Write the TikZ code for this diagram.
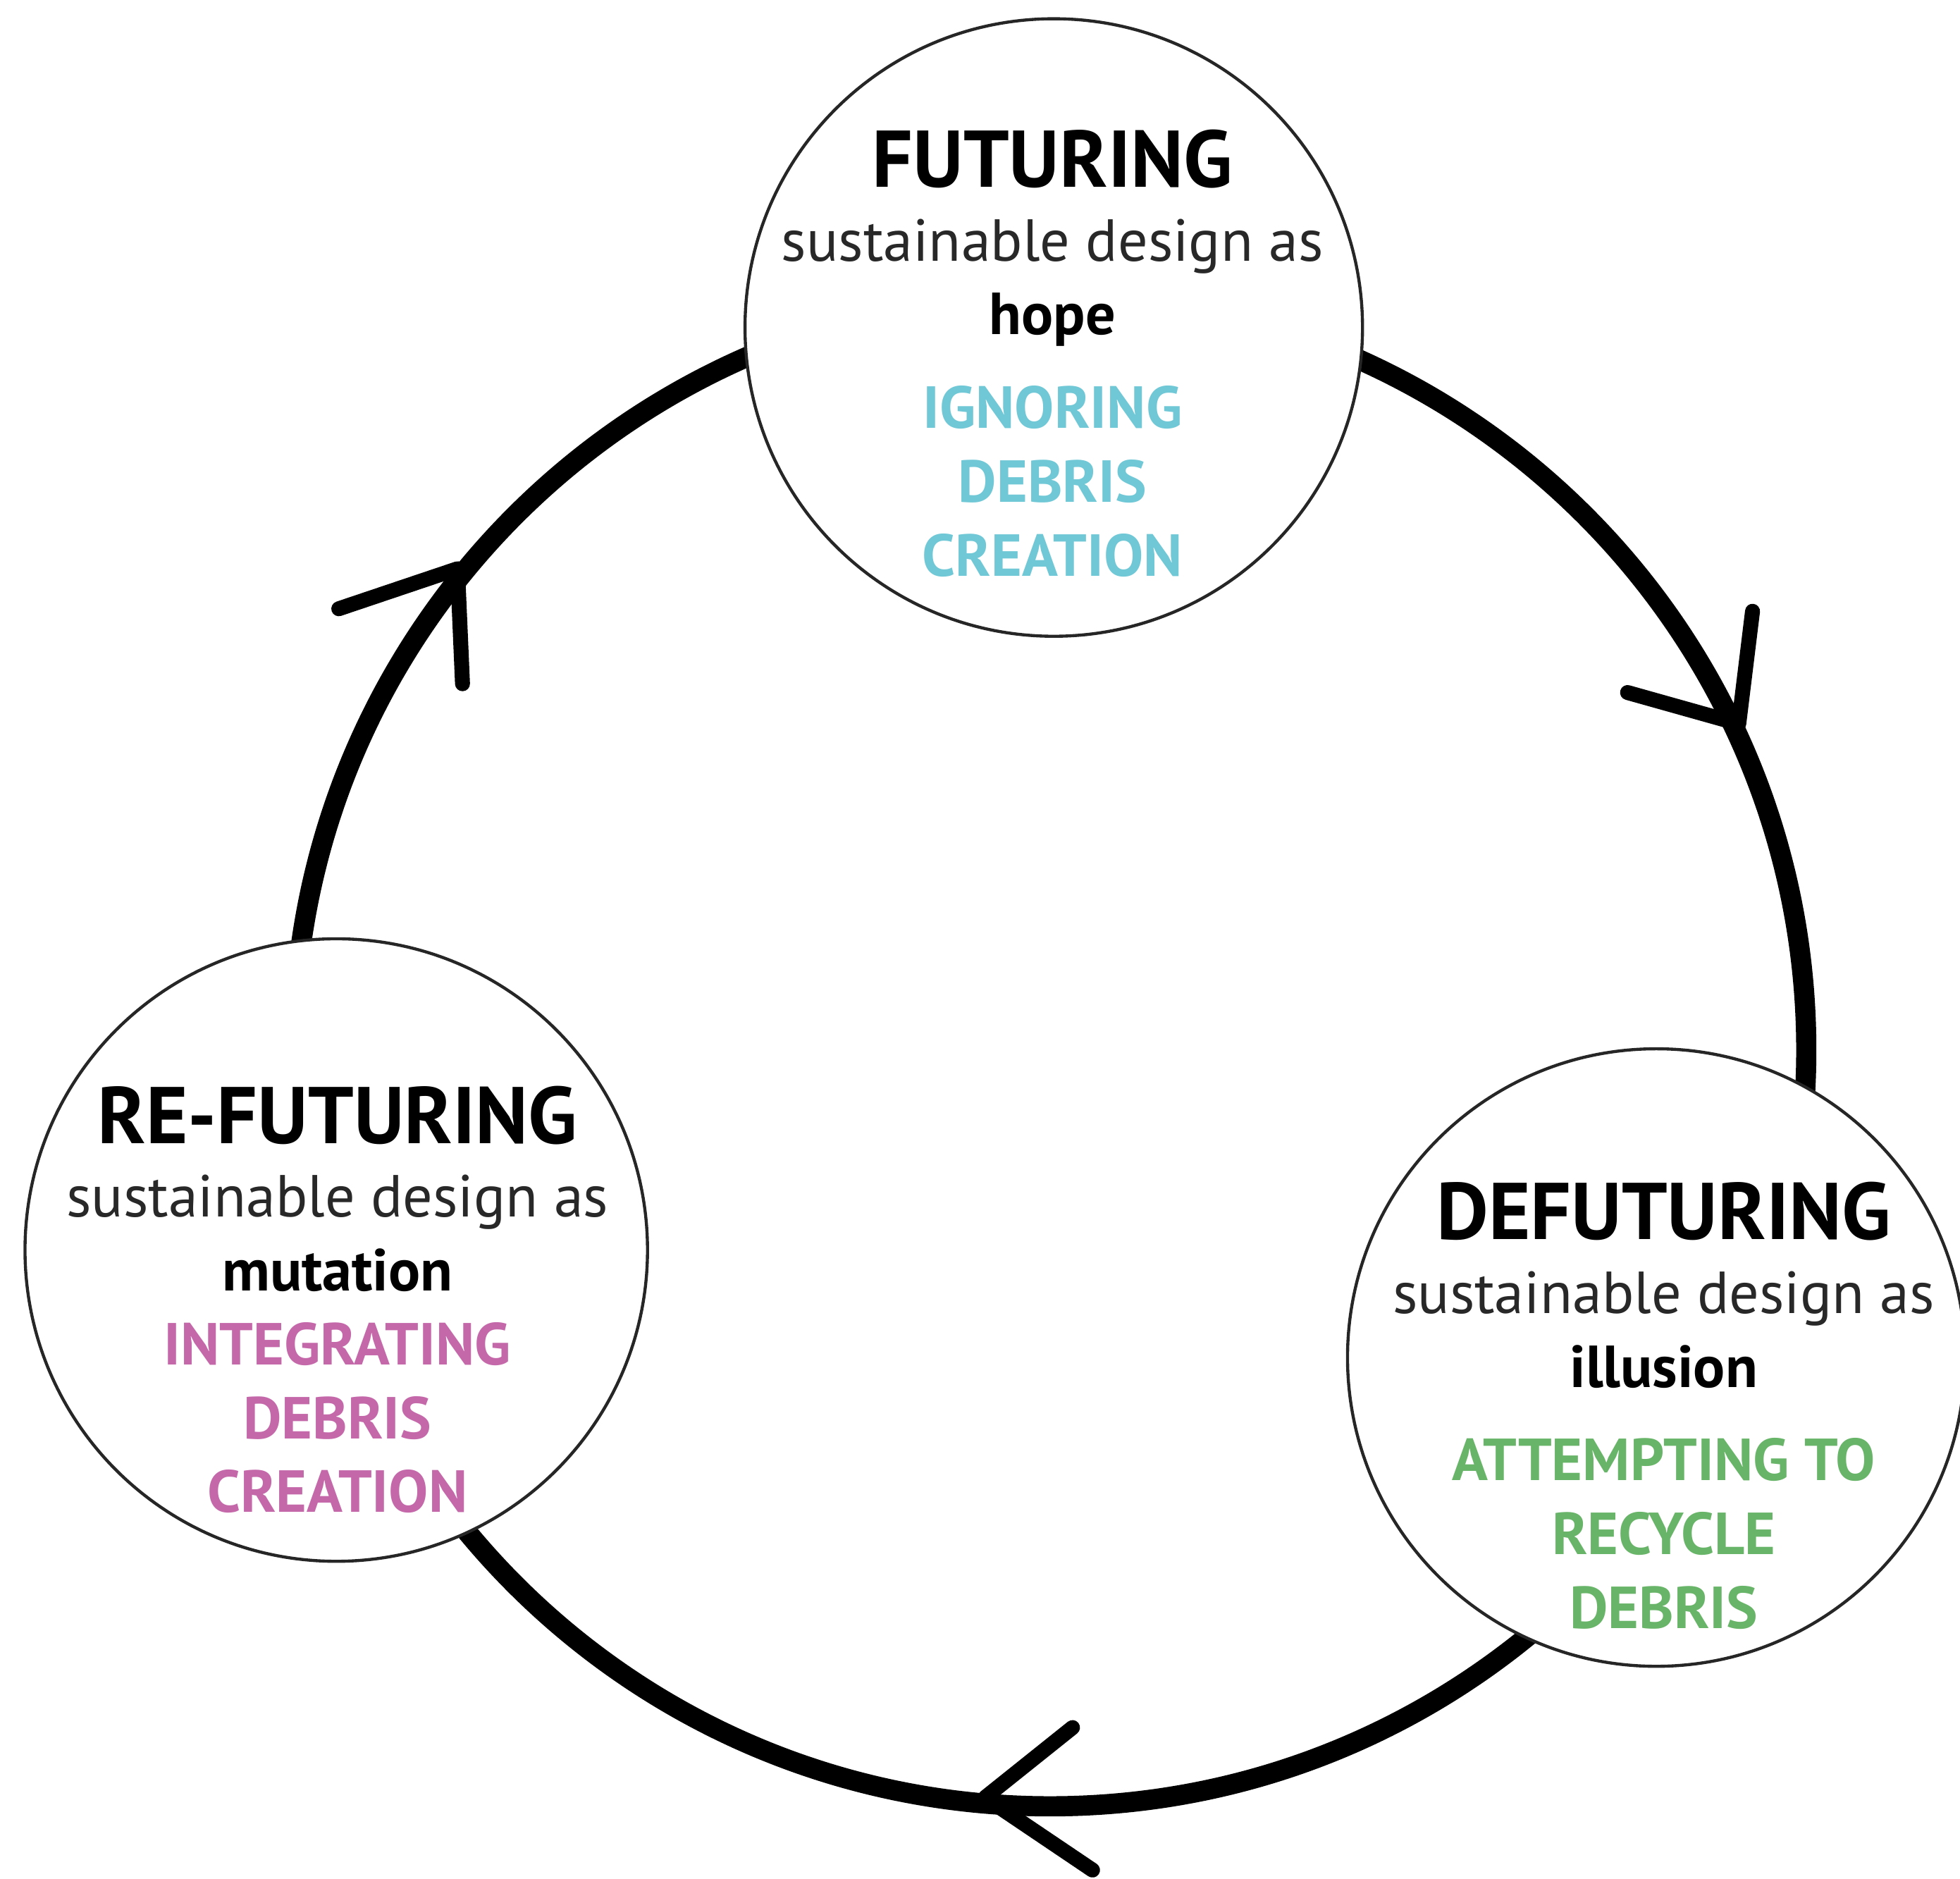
\documentclass[tikz,border=0pt]{standalone}
\usepackage{fontspec}
\setmainfont{PT Sans}
\definecolor{ignorecol}{RGB}{112,200,214}
\definecolor{integratecol}{RGB}{196,104,170}
\definecolor{recyclecol}{RGB}{104,180,104}
\definecolor{subcol}{RGB}{40,40,40}

\begin{document}
\begin{tikzpicture}[
    phase/.style={draw=black!85, line width=0.7pt, fill=white, circle,
        inner sep=0pt, minimum size=4.94cm},
    phasetext/.style={align=center, inner sep=0pt, anchor=north,
        font=\fontsize{13.5}{16.8}\selectfont},
    ring/.style={line width=4.6pt},
    barb/.style={line width=3.4pt, line cap=round, line join=round}]

    \useasboundingbox (0,0) rectangle (15.68,15.03);

    % the cycle ring, hidden under the phase circles
    \coordinate (c) at (8.40,6.63);
    \draw[ring] (c) circle (6.05);

    % arrow barbs on the ring
    \coordinate (tipA) at (3.66,10.48);
    \coordinate (tipB) at (13.91,9.24);
    \coordinate (tipC) at (7.88,0.65);
    \draw[barb] (2.71,10.16) -- (tipA) -- (3.70,9.56);
    \draw[barb] (13.02,9.49) -- (tipB) -- (14.02,10.14);
    \draw[barb] (8.58,1.21) -- (tipC) -- (8.74,0.07);

    \node[phase] (fut) at (8.43,12.41) {};
    \node[phase, minimum size=4.98cm] (refut) at (2.69,5.03) {};
    \node[phase] (defut) at (13.25,4.17) {};

    \node[phasetext] (futtxt) at (8.42,14.00) {%
        {\fontsize{18.3}{16.8}\selectfont\bfseries FUTURING}\\
        \textcolor{subcol}{sustainable design as}\\
        \textbf{hope}\\[4.5pt]
        \textcolor{ignorecol}{\textbf{IGNORING}}\\
        \textcolor{ignorecol}{\textbf{DEBRIS}}\\
        \textcolor{ignorecol}{\textbf{CREATION}}};
    \node[phasetext] (refuttxt) at (2.70,6.35) {%
        {\fontsize{18.3}{16.8}\selectfont\bfseries RE-FUTURING}\\
        \textcolor{subcol}{sustainable design as}\\
        \textbf{mutation}\\
        \textcolor{integratecol}{\textbf{INTEGRATING}}\\
        \textcolor{integratecol}{\textbf{DEBRIS}}\\
        \textcolor{integratecol}{\textbf{CREATION}}};
    \node[phasetext] (defuttxt) at (13.31,5.58) {%
        {\fontsize{18.3}{16.8}\selectfont\bfseries DEFUTURING}\\
        \textcolor{subcol}{sustainable design as}\\
        \textbf{illusion}\\[4.5pt]
        \textcolor{recyclecol}{\textbf{ATTEMPTING TO}}\\
        \textcolor{recyclecol}{\textbf{RECYCLE}}\\
        \textcolor{recyclecol}{\textbf{DEBRIS}}};
\end{tikzpicture}
\end{document}
